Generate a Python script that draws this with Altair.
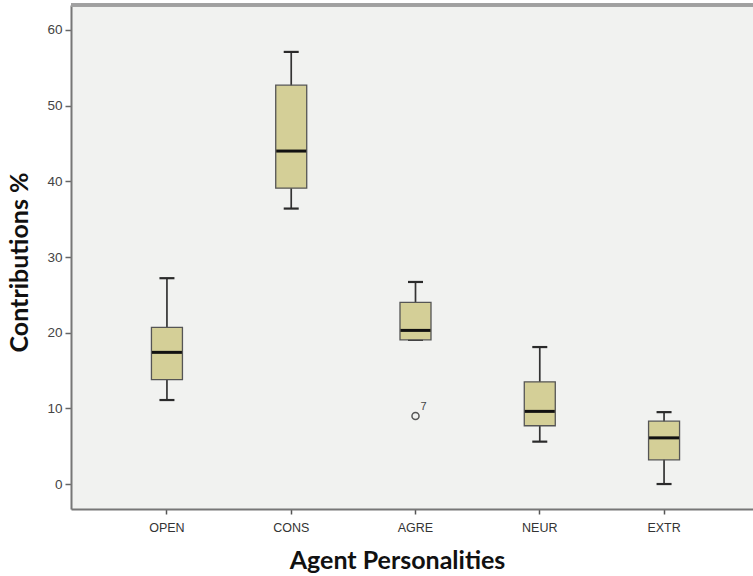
import altair as alt
import pandas as pd

# Five-number summaries per agent personality
categories = ["OPEN", "CONS", "AGRE", "NEUR", "EXTR"]
whisker_low = [11.1, 36.4, 19.05, 5.6, 0.0]
q1 = [13.8, 39.1, 19.05, 7.7, 3.2]
median = [17.4, 44.0, 20.3, 9.6, 6.1]
q3 = [20.7, 52.7, 24.0, 13.5, 8.3]
whisker_high = [27.2, 57.1, 26.7, 18.1, 9.5]

# Outlying cases
outlier_category = ["AGRE"]
outlier_value = [9.0]
outlier_case = ["7"]

y_ticks = [0, 10, 20, 30, 40, 50, 60]

box_df = pd.DataFrame({
    "category": categories,
    "low": whisker_low,
    "q1": q1,
    "median": median,
    "q3": q3,
    "high": whisker_high,
})
out_df = pd.DataFrame({
    "category": outlier_category,
    "value": outlier_value,
    "case": outlier_case,
})

LABEL_FONT = "Liberation Sans"
TITLE_FONT = "Lato"

x_scale = alt.Scale(domain=categories, range=[0, 689], paddingInner=0, paddingOuter=0.272)
y_scale = alt.Scale(domain=[-3.3, 63.3], nice=False, zero=False)

x_enc = alt.X(
    "category:N",
    sort=categories,
    scale=x_scale,
    title="Agent Personalities",
    axis=alt.Axis(
        labelAngle=0,
        labelFont=LABEL_FONT,
        labelFontSize=12.5,
        labelColor="#333333",
        labelPadding=7,
        tickSize=5,
        tickWidth=1.5,
        tickColor="#555555",
        domainColor="#777777",
        domainWidth=2,
        titleFont=TITLE_FONT,
        titleFontSize=25,
        titleFontWeight="bold",
        titleColor="#111111",
        titleX=326,
        titleY=59,
        titleAlign="center",
        titleBaseline="alphabetic",
    ),
)

y_axis = alt.Axis(
    values=y_ticks,
    grid=False,
    labelFont=LABEL_FONT,
    labelFontSize=13.5,
    labelColor="#444444",
    labelPadding=3,
    tickSize=6,
    tickWidth=1.5,
    tickColor="#666666",
    domainColor="#777777",
    domainWidth=2,
    titleFont=TITLE_FONT,
    titleFontSize=25,
    titleFontWeight="bold",
    titleColor="#111111",
    titleX=-44,
    titleY=257,
    titleAngle=-90,
    titleAlign="center",
    titleBaseline="alphabetic",
)

base = alt.Chart(box_df)

whiskers = base.mark_rule(color="#333333", strokeWidth=1.7).encode(
    x=x_enc,
    y=alt.Y("low:Q", scale=y_scale, axis=y_axis, title="Contributions %"),
    y2="high:Q",
)

caps_low = base.mark_tick(color="#2a2a2a", size=15, thickness=2.2, opacity=1).encode(
    x=x_enc, y=alt.Y("low:Q", scale=y_scale)
)
caps_high = base.mark_tick(color="#2a2a2a", size=15, thickness=2.2, opacity=1).encode(
    x=x_enc, y=alt.Y("high:Q", scale=y_scale)
)

boxes = base.mark_bar(
    size=31, color="#d4cf97", stroke="#555555", strokeWidth=1.3, opacity=1
).encode(
    x=x_enc,
    y=alt.Y("q1:Q", scale=y_scale),
    y2="q3:Q",
)

medians = base.mark_tick(color="#111111", size=30, thickness=3, opacity=1).encode(
    x=x_enc, y=alt.Y("median:Q", scale=y_scale)
)

outliers = alt.Chart(out_df).mark_point(
    shape="circle", filled=False, size=50, color="#555555", strokeWidth=1.5, opacity=1
).encode(
    x=x_enc, y=alt.Y("value:Q", scale=y_scale)
)

outlier_labels = alt.Chart(out_df).mark_text(
    dx=8, dy=-9, fontSize=11, font=LABEL_FONT, color="#444444"
).encode(
    x=x_enc, y=alt.Y("value:Q", scale=y_scale), text="case:N"
)

top_border = base.mark_rule(color="#a0a0a0", strokeWidth=3).encode(
    x=alt.value(0), x2=alt.value(689), y=alt.value(0)
)

chart = (
    alt.layer(top_border, whiskers, caps_low, caps_high, boxes, medians, outliers, outlier_labels)
    .properties(
        width=682,
        height=504,
        autosize=alt.AutoSizeParams(type="none"),
        padding={"left": 71, "top": 5, "right": 0, "bottom": 67},
        background="#ffffff",
    )
    .configure_view(fill="#f1f2f0", stroke="transparent")
)

chart.save("out.html", embed_options={"renderer": "svg", "actions": False})
